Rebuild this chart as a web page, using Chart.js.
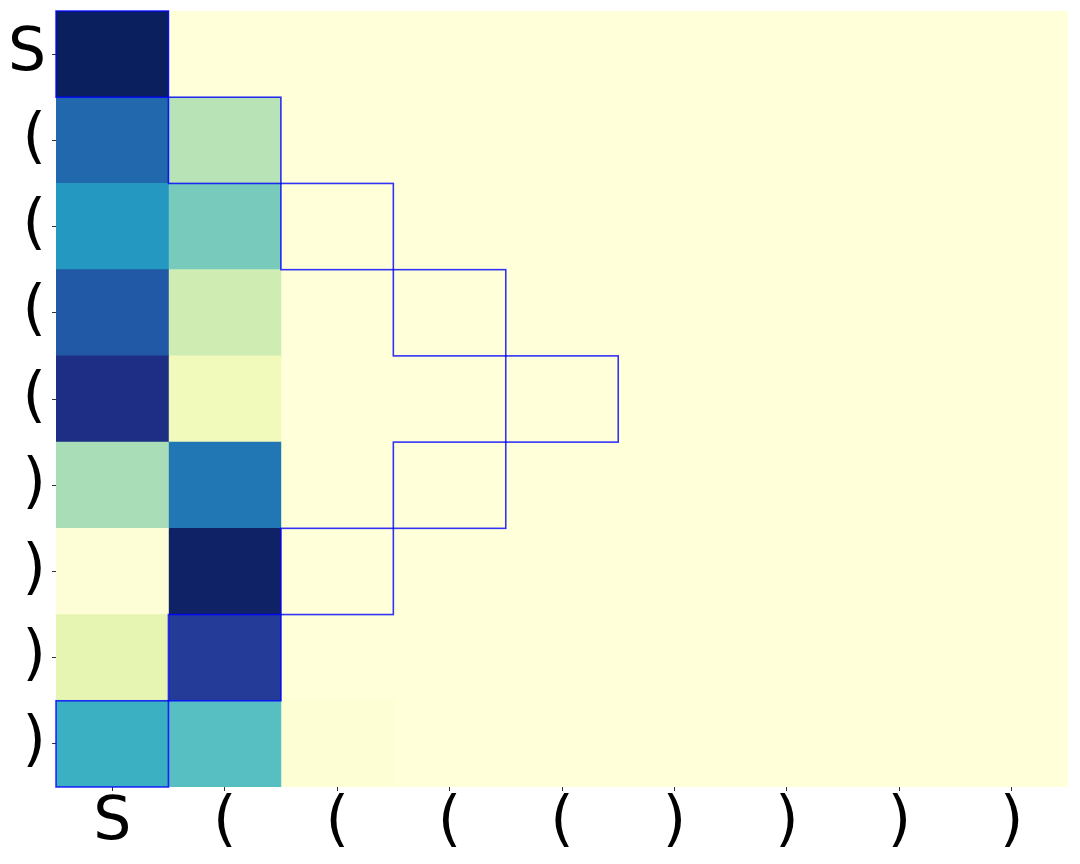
<!DOCTYPE html>
<html>
<head>
<meta charset="utf-8">
<script src="https://cdn.jsdelivr.net/npm/chart.js@4.4.0/dist/chart.umd.min.js"></script>
<style>
html,body{margin:0;padding:0;background:#fff;}
#wrap{width:1080px;height:864px;position:relative;}
</style>
</head>
<body>
<div id="wrap"><canvas id="c" width="1080" height="864"></canvas></div>
<script>
// Tick labels
const rowLabels = ['S', '(', '(', '(', '(', ')', ')', ')', ')'];
const colLabels = ['S', '(', '(', '(', '(', ')', ')', ')', ')'];

// Heatmap values (0..1), one array per row
const row0 = [0.99, 0, 0, 0, 0, 0, 0, 0, 0];
const row1 = [0.725, 0.278, 0, 0, 0, 0, 0, 0, 0];
const row2 = [0.60, 0.39, 0, 0, 0, 0, 0, 0, 0];
const row3 = [0.765, 0.224, 0, 0, 0, 0, 0, 0, 0];
const row4 = [0.908, 0.097, 0, 0, 0, 0, 0, 0, 0];
const row5 = [0.302, 0.689, 0, 0, 0, 0, 0, 0, 0];
const row6 = [0.012, 0.973, 0, 0, 0, 0, 0, 0, 0];
const row7 = [0.148, 0.851, 0, 0, 0, 0, 0, 0, 0];
const row8 = [0.52, 0.456, 0.015, 0, 0, 0, 0, 0, 0];
const values = [row0, row1, row2, row3, row4, row5, row6, row7, row8];

// Highlighted cells: [row, col]
const pathCells = [[0,0],[1,1],[2,2],[3,3],[4,4],[5,3],[6,2],[7,1],[8,0]];

// YlGnBu colormap
const ylgnbu = ['#ffffd9','#edf8b1','#c7e9b4','#7fcdbb','#41b6c4','#1d91c0','#225ea8','#253494','#081d58'];
function hex2rgb(h){return [parseInt(h.slice(1,3),16),parseInt(h.slice(3,5),16),parseInt(h.slice(5,7),16)];}
function cmap(v){
  v = Math.max(0, Math.min(1, v));
  const p = v * (ylgnbu.length - 1);
  const i = Math.min(Math.floor(p), ylgnbu.length - 2);
  const t = p - i;
  const a = hex2rgb(ylgnbu[i]), b = hex2rgb(ylgnbu[i+1]);
  const c = a.map((x, k) => Math.round(x + (b[k] - x) * t));
  return 'rgb(' + c.join(',') + ')';
}

const datasets = colLabels.map((_, j) => ({
  data: rowLabels.map(() => 1),
  backgroundColor: rowLabels.map((_, i) => cmap(values[i][j])),
  borderWidth: 0,
  barPercentage: 1.0,
  categoryPercentage: 1.0,
  stack: 's'
}));

const outlinePlugin = {
  id: 'outline',
  afterDatasetsDraw(chart) {
    const ctx = chart.ctx;
    const xs = chart.scales.x, ys = chart.scales.y;
    const half = (ys.getPixelForValue(1) - ys.getPixelForValue(0)) / 2;
    ctx.save();
    ctx.strokeStyle = 'rgba(0,0,255,0.8)';
    ctx.lineWidth = 1.6;
    pathCells.forEach(([r, c]) => {
      const x0 = xs.getPixelForValue(c), x1 = xs.getPixelForValue(c + 1);
      const yc = ys.getPixelForValue(r);
      ctx.strokeRect(x0, yc - half, x1 - x0, 2 * half);
    });
    ctx.restore();
  }
};

const font = {family: 'DejaVu Sans', size: 60};

new Chart(document.getElementById('c'), {
  type: 'bar',
  data: {labels: rowLabels, datasets},
  options: {
    indexAxis: 'y',
    responsive: false,
    animation: false,
    layout: {padding: {top: 11, right: 12, left: 0, bottom: 0}},
    plugins: {legend: {display: false}, tooltip: {enabled: false}},
    scales: {
      x: {
        type: 'linear', stacked: true, min: 0, max: 9,
        afterBuildTicks(s) { s.ticks = colLabels.map((_, i) => ({value: i + 0.5})); },
        afterFit(s) { s.height = 77; s.paddingLeft = 0; s.paddingRight = 0; },
        ticks: {
          autoSkip: false, maxRotation: 0, color: '#000', font, padding: -4,
          callback(v) { return colLabels[Math.round(v - 0.5)]; }
        },
        grid: {drawOnChartArea: false, drawTicks: true, tickLength: 4, color: '#333', lineWidth: 1},
        border: {display: false}
      },
      y: {
        type: 'category', stacked: true,
        afterFit(s) { s.width = 56; s.paddingTop = 0; s.paddingBottom = 0; },
        ticks: {autoSkip: false, color: '#000', font, padding: 6},
        grid: {offset: false, drawOnChartArea: false, drawTicks: true, tickLength: 4, color: '#333', lineWidth: 1},
        border: {display: false}
      }
    }
  },
  plugins: [outlinePlugin]
});
</script>
</body>
</html>
